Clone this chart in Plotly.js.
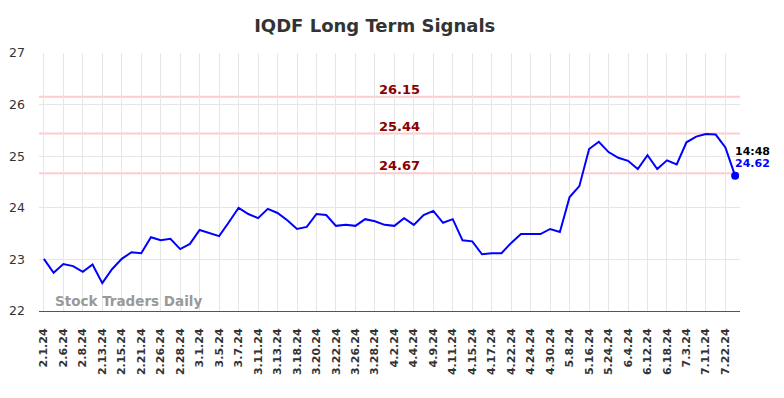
<!DOCTYPE html>
<html>
<head>
<meta charset="utf-8">
<script src="https://cdn.plot.ly/plotly-3.0.1.min.js"></script>
<style>html,body{margin:0;padding:0;background:#fff;}#chart{width:784px;height:398px;}</style>
</head>
<body>
<div id="chart"></div>
<script>
const dates = ["2.1.24","2.5.24","2.6.24","2.7.24","2.8.24","2.12.24","2.13.24","2.14.24","2.15.24","2.16.24",
"2.21.24","2.22.24","2.26.24","2.27.24","2.28.24","2.29.24","3.1.24","3.4.24","3.5.24","3.6.24",
"3.7.24","3.8.24","3.11.24","3.12.24","3.13.24","3.15.24","3.18.24","3.19.24","3.20.24","3.21.24",
"3.22.24","3.25.24","3.26.24","3.27.24","3.28.24","4.1.24","4.2.24","4.3.24","4.4.24","4.8.24",
"4.9.24","4.10.24","4.11.24","4.12.24","4.15.24","4.16.24","4.17.24","4.19.24","4.22.24","4.23.24",
"4.24.24","4.26.24","4.30.24","5.2.24","5.8.24","5.13.24","5.16.24","5.21.24","5.24.24","5.30.24",
"6.4.24","6.7.24","6.12.24","6.14.24","6.18.24","6.26.24","7.3.24","7.9.24","7.11.24","7.17.24",
"7.22.24","7.24.24"];
const prices = [23.01,22.74,22.91,22.87,22.76,22.90,22.54,22.81,23.01,23.14,
23.12,23.43,23.37,23.40,23.20,23.30,23.57,23.51,23.45,23.72,
24.00,23.88,23.80,23.98,23.90,23.76,23.59,23.63,23.88,23.86,
23.65,23.67,23.65,23.78,23.74,23.67,23.65,23.80,23.67,23.86,
23.94,23.71,23.78,23.37,23.35,23.10,23.12,23.12,23.32,23.49,
23.49,23.49,23.59,23.53,24.21,24.42,25.14,25.28,25.08,24.97,
24.91,24.75,25.02,24.75,24.92,24.84,25.27,25.38,25.43,25.42,
25.17,24.62];
const tickLabels = ["2.1.24","2.6.24","2.8.24","2.13.24","2.15.24","2.21.24","2.26.24","2.28.24","3.1.24","3.5.24",
"3.7.24","3.11.24","3.13.24","3.18.24","3.20.24","3.22.24","3.26.24","3.28.24","4.2.24","4.4.24",
"4.9.24","4.11.24","4.15.24","4.17.24","4.22.24","4.24.24","4.30.24","5.8.24","5.16.24","5.24.24",
"6.4.24","6.12.24","6.18.24","7.3.24","7.11.24","7.22.24"];
const levels = [26.15, 25.44, 24.67];
const lastTime = "14:48";

const lastIdx = prices.length - 1;
const lastDate = dates[lastIdx];
const lastPrice = prices[lastIdx];

const traces = [
  {x: dates, y: prices, type: 'scatter', mode: 'lines', line: {color: '#0000ff', width: 2}, hoverinfo: 'skip'},
  {x: [lastDate], y: [lastPrice], type: 'scatter', mode: 'markers', marker: {color: '#0000ff', size: 8}, hoverinfo: 'skip'}
];

const shapes = levels.map(v => ({
  type: 'line', xref: 'paper', x0: 0, x1: 1, yref: 'y', y0: v, y1: v,
  line: {color: '#ffcccc', width: 2}, layer: 'below'
}));

const annotations = levels.map(v => ({
  xref: 'paper', x: 0.514, yref: 'y', y: v, yanchor: 'bottom', yshift: -2,
  text: '<b>' + v.toFixed(2) + '</b>', showarrow: false,
  font: {family: 'DejaVu Sans, sans-serif', size: 13, color: '#8b0000'}
}));
annotations.push({
  x: lastDate, y: lastPrice, xref: 'x', yref: 'y', xanchor: 'left', yanchor: 'middle',
  yshift: 24, xshift: -2, text: '<b>' + lastTime + '</b>', showarrow: false,
  font: {family: 'DejaVu Sans, sans-serif', size: 11, color: '#000000'}
});
annotations.push({
  x: lastDate, y: lastPrice, xref: 'x', yref: 'y', xanchor: 'left', yanchor: 'middle',
  yshift: 12, xshift: -2, text: '<b>' + lastPrice.toFixed(2) + '</b>', showarrow: false,
  font: {family: 'DejaVu Sans, sans-serif', size: 11, color: '#0000ff'}
});
annotations.push({
  xref: 'paper', x: 0.02, yref: 'paper', y: 0.0, xanchor: 'left', yanchor: 'bottom', yshift: 0,
  text: '<b>Stock Traders Daily</b>', showarrow: false,
  font: {family: 'DejaVu Sans, sans-serif', size: 13.5, color: '#999999'}
});

const layout = {
  width: 784, height: 398,
  margin: {l: 39, r: 44, t: 53, b: 87},
  paper_bgcolor: '#ffffff', plot_bgcolor: '#ffffff',
  showlegend: false,
  title: {text: '<b>IQDF Long Term Signals</b>', x: 0.478, xanchor: 'center', y: 0.935, yanchor: 'middle',
    font: {family: 'DejaVu Sans, sans-serif', size: 18, color: '#333333'}},
  xaxis: {
    type: 'category', range: [-0.5, dates.length - 0.5],
    tickmode: 'array', tickvals: tickLabels,
    ticktext: tickLabels.map(t => '<b>' + t + '</b>'), tickangle: -90,
    tickfont: {family: 'DejaVu Sans, sans-serif', size: 11, color: '#333333'},
    ticklabelstandoff: 12,
    showgrid: true, gridcolor: '#e6e6e6', gridwidth: 1,
    showline: true, linecolor: '#555555', linewidth: 1, ticks: '', zeroline: false, fixedrange: true
  },
  yaxis: {
    range: [22, 27], tickvals: [22, 23, 24, 25, 26, 27],
    tickfont: {family: 'DejaVu Sans, sans-serif', size: 12.5, color: '#333333'},
    ticklabelstandoff: 13,
    showgrid: true, gridcolor: '#e6e6e6', gridwidth: 1, zeroline: false, showline: false,
    ticks: '', ticklen: 0, fixedrange: true
  },
  shapes: shapes,
  annotations: annotations
};

Plotly.newPlot('chart', traces, layout, {displayModeBar: false, staticPlot: true});
</script>
</body>
</html>
